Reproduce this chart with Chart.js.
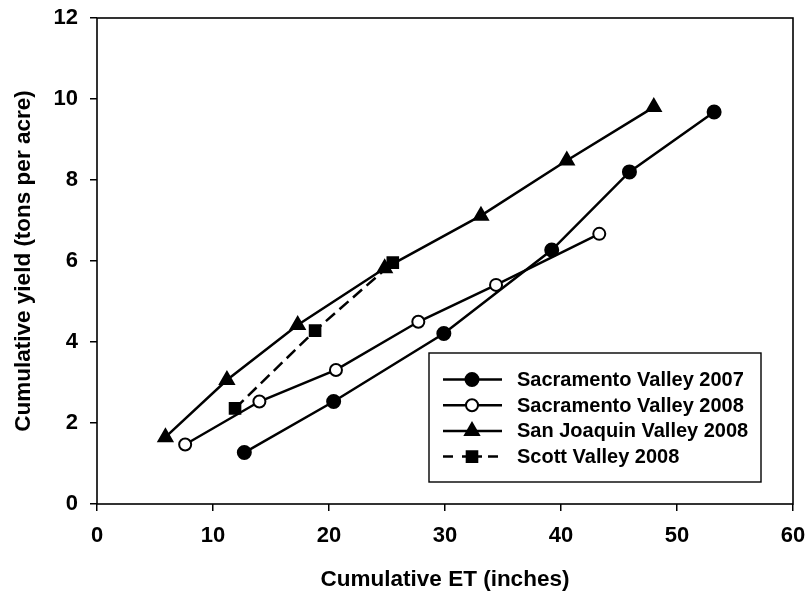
<!DOCTYPE html>
<html>
<head>
<meta charset="utf-8">
<script src="https://cdn.jsdelivr.net/npm/chart.js@4"></script>
<style>
  html, body { margin: 0; padding: 0; background: #fff; }
  #wrap { width: 811px; height: 597px; position: relative; }
</style>
</head>
<body>
<div id="wrap"><canvas id="c"></canvas></div>
<script>
// ---- data ----
const seriesNames = ['Sacramento Valley 2007', 'Sacramento Valley 2008', 'San Joaquin Valley 2008', 'Scott Valley 2008'];

const sac2007ET    = [12.7, 20.4, 29.9, 39.2, 45.9, 53.2];
const sac2007Yield = [1.27, 2.53, 4.21, 6.27, 8.20, 9.68];

const sac2008ET    = [7.6, 14.0, 20.6, 27.7, 34.4, 43.3];
const sac2008Yield = [1.47, 2.53, 3.31, 4.50, 5.41, 6.67];

const sjv2008ET    = [5.9, 11.2, 17.3, 24.8, 33.1, 40.5, 48.0];
const sjv2008Yield = [1.65, 3.06, 4.42, 5.82, 7.12, 8.48, 9.80];

const scott2008ET    = [11.9, 18.8, 25.5];
const scott2008Yield = [2.36, 4.28, 5.96];

const xTicks = [0, 10, 20, 30, 40, 50, 60];
const yTicks = [0, 2, 4, 6, 8, 10, 12];

const xTitle = 'Cumulative ET (inches)';
const yTitle = 'Cumulative yield (tons per acre)';

// ---- build ----
const toPts = (xs, ys) => xs.map((x, i) => ({ x: x, y: ys[i] }));

const FONT = 'Liberation Sans, Arial, sans-serif';

const styles = [
  { pointStyle: 'circle',   radius: 6.5, fill: '#000', dash: [] },
  { pointStyle: 'circle',   radius: 6,   fill: '#fff', dash: [] },
  { pointStyle: 'triangle', radius: 8,   fill: '#000', dash: [] },
  { pointStyle: 'rect',     radius: 7.5, fill: '#000', dash: [12, 6] }
];

const seriesData = [
  toPts(sac2007ET, sac2007Yield),
  toPts(sac2008ET, sac2008Yield),
  toPts(sjv2008ET, sjv2008Yield),
  toPts(scott2008ET, scott2008Yield)
];

const datasets = seriesData.map((d, i) => ({
  label: seriesNames[i],
  data: d,
  showLine: true,
  borderColor: '#000',
  borderWidth: 2.5,
  borderDash: styles[i].dash,
  backgroundColor: styles[i].fill,
  pointStyle: styles[i].pointStyle,
  pointRadius: styles[i].radius,
  pointHoverRadius: styles[i].radius,
  pointBackgroundColor: styles[i].fill,
  pointBorderColor: '#000',
  pointBorderWidth: 2,
  tension: 0,
  fill: false
}));

function drawMarker(ctx, style, x, y) {
  ctx.save();
  ctx.setLineDash([]);
  ctx.fillStyle = style.fill;
  ctx.strokeStyle = '#000';
  ctx.lineWidth = 2;
  ctx.beginPath();
  const r = style.radius;
  if (style.pointStyle === 'circle') {
    ctx.arc(x, y, r, 0, Math.PI * 2);
  } else if (style.pointStyle === 'triangle') {
    let rad = 0;
    ctx.moveTo(x + Math.sin(rad) * r, y - Math.cos(rad) * r);
    rad += 2 * Math.PI / 3;
    ctx.lineTo(x + Math.sin(rad) * r, y - Math.cos(rad) * r);
    rad += 2 * Math.PI / 3;
    ctx.lineTo(x + Math.sin(rad) * r, y - Math.cos(rad) * r);
    ctx.closePath();
  } else {
    const s = Math.SQRT1_2 * r;
    ctx.rect(x - s, y - s, 2 * s, 2 * s);
  }
  ctx.fill();
  ctx.stroke();
  ctx.restore();
}

const framePlugin = {
  id: 'frameAndLegend',
  afterDraw(chart) {
    const ctx = chart.ctx;
    const a = chart.chartArea;
    ctx.save();
    ctx.strokeStyle = '#000';
    ctx.lineWidth = 1.6;
    ctx.strokeRect(a.left, a.top, a.right - a.left, a.bottom - a.top);

    // legend box
    const bx = 429, by = 353, bw = 332, bh = 129;
    ctx.lineWidth = 1.4;
    ctx.fillStyle = '#fff';
    ctx.fillRect(bx, by, bw, bh);
    ctx.strokeRect(bx, by, bw, bh);

    const rowY0 = 379.5, rowStep = 25.7;
    const lx0 = 443, lx1 = 502, mx = 472, tx = 517;
    ctx.font = 'bold 20px ' + FONT;
    ctx.textBaseline = 'middle';
    ctx.textAlign = 'left';
    seriesNames.forEach((name, i) => {
      const y = rowY0 + i * rowStep;
      ctx.strokeStyle = '#000';
      ctx.lineWidth = 2.5;
      ctx.beginPath();
      if (styles[i].dash.length) {
        ctx.moveTo(443, y); ctx.lineTo(453, y);
        ctx.moveTo(462, y); ctx.lineTo(482, y);
        ctx.moveTo(488, y); ctx.lineTo(498, y);
      } else {
        ctx.moveTo(lx0, y); ctx.lineTo(lx1, y);
      }
      ctx.stroke();
      drawMarker(ctx, styles[i], mx, y);
      ctx.fillStyle = '#000';
      ctx.fillText(name, tx, y + 1);
    });
    ctx.restore();
  }
};

new Chart(document.getElementById('c'), {
  type: 'scatter',
  data: { datasets: datasets },
  options: {
    responsive: true,
    maintainAspectRatio: false,
    animation: false,
    events: [],
    layout: { padding: { top: 18, right: 18, left: 0, bottom: 0 } },
    plugins: {
      legend: { display: false },
      tooltip: { enabled: false }
    },
    scales: {
      x: {
        type: 'linear',
        min: xTicks[0],
        max: xTicks[xTicks.length - 1],
        afterBuildTicks: (s) => { s.ticks = xTicks.map(v => ({ value: v })); },
        afterFit: (s) => { s.height = 93; s.paddingLeft = 0; s.paddingRight = 0; },
        grid: { display: true, drawOnChartArea: false, drawTicks: true, tickLength: 7, color: '#000', lineWidth: 1.5 },
        border: { display: false },
        ticks: { color: '#000', padding: 12, font: { family: FONT, size: 22, weight: 'bold' } },
        title: { display: true, text: xTitle, color: '#000', padding: { top: 0, bottom: 4 }, font: { family: FONT, size: 22.5, weight: 'bold' } }
      },
      y: {
        type: 'linear',
        min: yTicks[0],
        max: yTicks[yTicks.length - 1],
        afterBuildTicks: (s) => { s.ticks = yTicks.map(v => ({ value: v })); },
        afterFit: (s) => { s.width = 97; s.paddingTop = 0; s.paddingBottom = 0; },
        grid: { display: true, drawOnChartArea: false, drawTicks: true, tickLength: 7, color: '#000', lineWidth: 1.5 },
        border: { display: false },
        ticks: { color: '#000', padding: 12, font: { family: FONT, size: 22, weight: 'bold' } },
        title: { display: true, text: yTitle, color: '#000', padding: { top: 10, bottom: 0 }, font: { family: FONT, size: 22.5, weight: 'bold' } }
      }
    }
  },
  plugins: [framePlugin]
});
</script>
</body>
</html>
